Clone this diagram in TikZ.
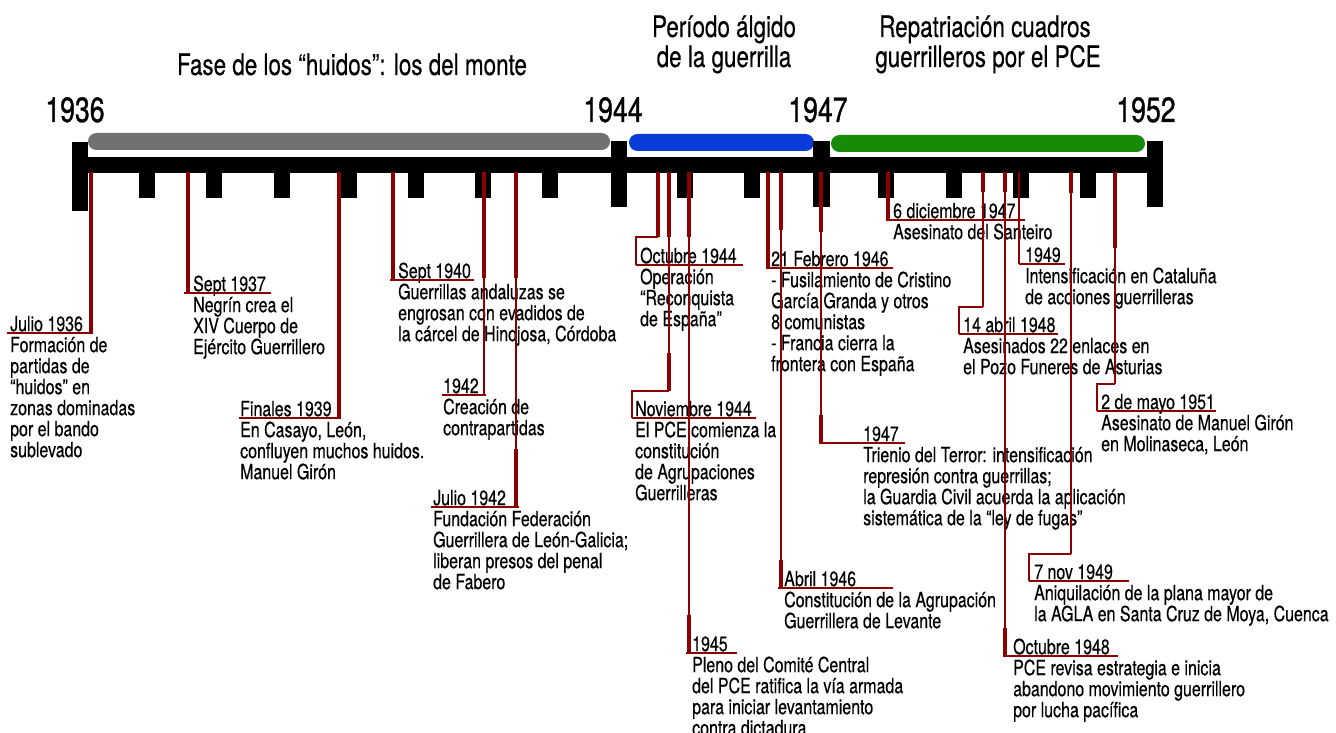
\documentclass[tikz,border=0pt]{standalone}
\usepackage{fontspec}
\setmainfont{TeX Gyre Heros}[FakeStretch=0.76,FakeBold=0.35]
\newfontfamily\yrfam{TeX Gyre Heros}[FakeStretch=0.76,FakeBold=0.9]
\definecolor{dred}{RGB}{139,0,0}
\definecolor{phgray}{RGB}{112,112,112}
\definecolor{phblue}{RGB}{10,60,217}
\definecolor{phgreen}{RGB}{23,138,7}
\newcommand{\evfont}{\fontsize{21}{21}\selectfont}
\newcommand{\yrfont}{\yrfam\fontsize{35}{35}\selectfont}
\newcommand{\ttlfont}{\fontsize{29.5}{30}\selectfont}
\newcommand{\st}{\rule{0pt}{17pt}}
\tikzset{
  evt/.style={anchor=north west, inner sep=0pt, align=left, font=\evfont},
  stem/.style={draw=dred, line width=3.6pt},
  wire/.style={draw=dred, line width=1.2pt},
  elbow/.style={draw=dred, line width=2pt},
  uline/.style={draw=dred, line width=2.2pt},
  tickbox/.style={fill=black},
  phase/.style={rounded corners=8.5pt},
  yearlbl/.style={font=\yrfont, anchor=base, inner sep=0pt},
  ttl/.style={font=\ttlfont, align=center, anchor=base, inner sep=0pt}
}
\begin{document}
\begin{tikzpicture}[x=1pt,y=-1pt]
\useasboundingbox[fill=white] (0,0) rectangle (1336,733);

% titles
\node[ttl] (t1) at (352,75) {Fase de los “huidos”: los del monte};
\node[ttl] (t2a) at (724,37) {Período álgido};
\node[ttl] (t2b) at (724,67) {de la guerrilla};
\node[ttl] (t3a) at (985,37) {Repatriación cuadros};
\node[ttl] (t3b) at (988,67) {guerrilleros por el PCE};

% year labels
\node[yearlbl] (y1936) at (75,122) {1936};
\node[yearlbl] (y1944) at (613,122) {1944};
\node[yearlbl] (y1947) at (818,122) {1947};
\node[yearlbl] (y1952) at (1146,122) {1952};

% phase bars
\fill[phgray, phase] (88,133) rectangle (610,150);
\fill[phblue, phase] (629,134) rectangle (814,151);
\fill[phgreen, phase] (831,135) rectangle (1145,152);

% main bar
\fill[black] (72,157) rectangle (1163,173);
\fill[black] (72,142) rectangle (88,211);
\fill[black] (611,141) rectangle (627,207);
\fill[black] (813,141) rectangle (830,207);
\fill[black] (1147,141) rectangle (1163,207);
\foreach \k in {1,...,7,9,10,12,13,14,15}{
  \fill[tickbox] ({80+67.2*\k-8},173) rectangle ({80+67.2*\k+8},198);
}

% event nodes
\node[evt] (e1) at (10,314) {\st Julio 1936\\Formación de\\partidas de\\“huidos” en\\zonas dominadas\\por el bando\\sublevado};
\node[evt] (e2) at (193,274) {\st Sept 1937\\Negrín crea el\\XIV Cuerpo de\\Ejército Guerrillero};
\node[evt] (e3) at (240,399) {\st Finales 1939\\En Casayo, León,\\confluyen muchos huidos.\\Manuel Girón};
\node[evt] (e4) at (398,261) {\st Sept 1940\\Guerrillas andaluzas se\\engrosan con evadidos de\\la cárcel de Hinojosa, Córdoba};
\node[evt] (e5) at (443,376) {\st 1942\\Creación de\\contrapartidas};
\node[evt] (e6) at (433,488) {\st Julio 1942\\Fundación Federación\\Guerrillera de León-Galicia;\\liberan presos del penal\\de Fabero};
\node[evt] (e7) at (640,246) {\st Octubre 1944\\Operación\\“Reconquista\\de España”};
\node[evt] (e8) at (635,399) {\st Noviembre 1944\\El PCE comienza la\\constitución\\de Agrupaciones\\Guerrilleras};
\node[evt] (e9) at (692,634) {\st 1945\\Pleno del Comité Central\\del PCE ratifica la vía armada\\para iniciar levantamiento\\contra dictadura};
\node[evt] (e10) at (771,249) {\st 21 Febrero 1946\\- Fusilamiento de Cristino\\García Granda y otros\\8 comunistas\\- Francia cierra la\\frontera con España};
\node[evt] (e11) at (784,569) {\st Abril 1946\\Constitución de la Agrupación\\Guerrillera de Levante};
\node[evt] (e12) at (863,424) {\st 1947\\Trienio del Terror: intensificación\\represión contra guerrillas;\\la Guardia Civil acuerda la aplicación\\sistemática de la “ley de fugas”};
\node[evt] (e13) at (893,201) {\st 6 diciembre 1947\\Asesinato del Santeiro};
\node[evt] (e14) at (963,315) {\st 14 abril 1948\\Asesinados 22 enlaces en\\el Pozo Funeres de Asturias};
\node[evt] (e15) at (1013,637) {\st Octubre 1948\\PCE revisa estrategia e inicia\\abandono movimiento guerrillero\\por lucha pacífica};
\node[evt] (e16) at (1025,245) {\st 1949\\Intensificación en Cataluña\\de acciones guerrilleras};
\node[evt] (e17) at (1034,562) {\st 7 nov 1949\\Aniquilación de la plana mayor de\\la AGLA en Santa Cruz de Moya, Cuenca};
\node[evt] (e18) at (1101,392) {\st 2 de mayo 1951\\Asesinato de Manuel Girón\\en Molinaseca, León};

% bar anchor points
\coordinate (p1) at (91,172);
\coordinate (p2) at (188,172);
\coordinate (p3) at (339,172);
\coordinate (p4) at (393,172);
\coordinate (p5) at (484,172);
\coordinate (p6) at (516,172);
\coordinate (p7) at (658,172);
\coordinate (p8) at (669,172);
\coordinate (p9) at (689,172);
\coordinate (p10) at (768,172);
\coordinate (p11) at (781,172);
\coordinate (p12) at (821,172);
\coordinate (p13) at (888,172);
\coordinate (p14) at (983,172);
\coordinate (p15) at (1005,172);
\coordinate (p16) at (1019,172);
\coordinate (p17) at (1071,172);
\coordinate (p18) at (1115,172);

% connectors
% 1 Julio 1936
\draw[stem] (p1) -- (p1 |- 0,333);
\draw[uline] (7,333) -- (93,333);
% 2 Sept 1937
\draw[stem] (p2) -- (p2 |- 0,293);
\draw[uline] (184,293) -- (271,293);
% 3 Finales 1939
\draw[stem] (p3) -- (p3 |- 0,418);
\draw[uline] (239,418) -- (341,418);
% 4 Sept 1940
\draw[stem] (p4) -- (p4 |- 0,280);
\draw[uline] (390,280) -- (474,280);
% 5 1942
\draw[stem] (p5) -- (p5 |- 0,278);
\draw[wire] (p5 |- 0,278) -- (p5 |- 0,395);
\draw[uline] (442,395) -- (486,395);
% 6 Julio 1942
\draw[stem] (p6) -- (p6 |- 0,278);
\draw[wire] (p6 |- 0,278) -- (p6 |- 0,449);
\draw[stem] (p6 |- 0,449) -- (p6 |- 0,507);
\draw[uline] (431,507) -- (519,507);
% 7 Octubre 1944
\draw[stem] (p7) -- (p7 |- 0,237);
\draw[elbow] (p7 |- 0,237) -| (636,265);
\draw[uline] (636,265) -- (743,265);
% 8 Noviembre 1944
\draw[stem] (p8) -- (p8 |- 0,237);
\draw[wire] (p8 |- 0,237) -- (p8 |- 0,353);
\draw[stem] (p8 |- 0,353) -- (p8 |- 0,391);
\draw[elbow] (p8 |- 0,391) -| (632,418);
\draw[uline] (632,418) -- (756,418);
% 9 1945
\draw[stem] (p9) -- (p9 |- 0,237);
\draw[wire] (p9 |- 0,237) -- (p9 |- 0,615);
\draw[stem] (p9 |- 0,615) -- (p9 |- 0,653);
\draw[uline] (686,653) -- (737,653);
% 10 21 Febrero 1946
\draw[stem] (p10) -- (p10 |- 0,268);
\draw[uline] (766,268) -- (893,268);
% 11 Abril 1946
\draw[stem] (p11) -- (p11 |- 0,230);
\draw[wire] (p11 |- 0,230) -- (p11 |- 0,560);
\draw[stem] (p11 |- 0,560) -- (p11 |- 0,588);
\draw[uline] (778,588) -- (893,588);
% 12 1947
\draw[stem] (p12) -- (p12 |- 0,232);
\draw[wire] (p12 |- 0,232) -- (p12 |- 0,415);
\draw[stem] (p12 |- 0,415) -- (p12 |- 0,443);
\draw[uline] (819,443) -- (905,443);
% 13 6 diciembre 1947
\draw[stem] (p13) -- (p13 |- 0,220);
\draw[uline] (886,220) -- (1025,220);
% 14 14 abril 1948
\draw[stem] (p14) -- (p14 |- 0,192);
\draw[wire] (p14 |- 0,192) -- (p14 |- 0,307);
\draw[elbow] (p14 |- 0,307) -| (959,334);
\draw[uline] (959,334) -- (1058,334);
% 15 Octubre 1948
\draw[stem] (p15) -- (p15 |- 0,192);
\draw[wire] (p15 |- 0,192) -- (p15 |- 0,628);
\draw[stem] (p15 |- 0,628) -- (p15 |- 0,656);
\draw[uline] (1003,656) -- (1118,656);
% 16 1949
\draw[wire] (p16) -- (p16 |- 0,264);
\draw[uline] (1019,264) -- (1065,264);
% 17 7 nov 1949
\draw[stem] (p17) -- (p17 |- 0,193);
\draw[wire] (p17 |- 0,193) -- (p17 |- 0,554);
\draw[elbow] (p17 |- 0,554) -| (1029,581);
\draw[uline] (1029,581) -- (1129,581);
% 18 2 de mayo 1951
\draw[stem] (p18) -- (p18 |- 0,248);
\draw[wire] (p18 |- 0,248) -- (p18 |- 0,384);
\draw[elbow] (p18 |- 0,384) -| (1097,411);
\draw[uline] (1097,411) -- (1216,411);
\end{tikzpicture}
\end{document}
